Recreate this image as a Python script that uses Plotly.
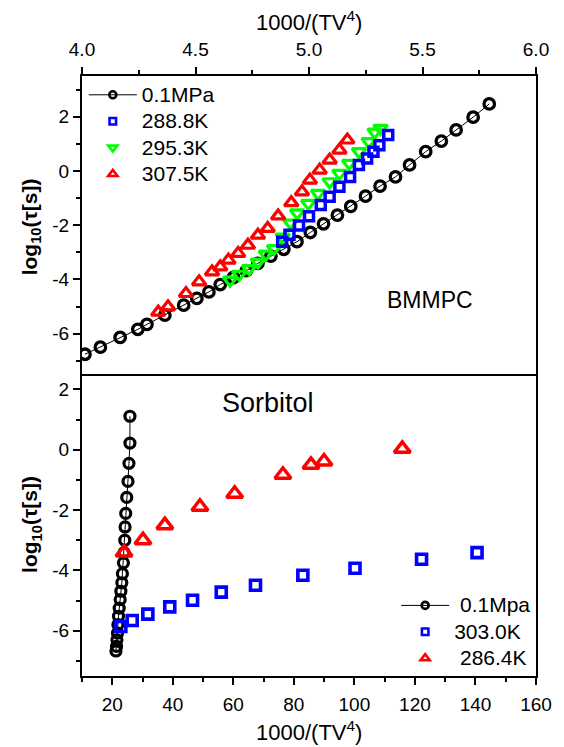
import plotly.graph_objects as go

# ---------------- data: top panel (BMMPC) ----------------
bm_01_x = [4.013, 4.081, 4.168, 4.246, 4.286, 4.365, 4.448, 4.506, 4.559, 4.609,
           4.667, 4.724, 4.775, 4.832, 4.889, 4.947, 5.006, 5.064, 5.125, 5.184,
           5.249, 5.313, 5.381, 5.443, 5.514, 5.583, 5.648, 5.723, 5.794]
bm_01_y = [-6.76, -6.50, -6.14, -5.84, -5.66, -5.32, -4.95, -4.70, -4.46, -4.19,
           -3.93, -3.68, -3.41, -3.14, -2.89, -2.61, -2.27, -1.95, -1.63, -1.31,
           -0.93, -0.56, -0.22, 0.22, 0.71, 1.10, 1.51, 1.98, 2.47]

bm_288_x = [4.882, 4.914, 4.956, 5.000, 5.052, 5.091, 5.134, 5.181, 5.220, 5.256,
            5.284, 5.310, 5.349]
bm_288_y = [-2.61, -2.35, -2.01, -1.67, -1.26, -0.95, -0.58, -0.22, 0.22, 0.46,
            0.71, 0.95, 1.32]

bm_295_x = [4.652, 4.693, 4.736, 4.775, 4.810, 4.846, 4.884, 4.918, 4.948, 4.997,
            5.040, 5.091, 5.134, 5.177, 5.220, 5.263, 5.289, 5.315]
bm_295_y = [-4.03, -3.81, -3.60, -3.36, -3.07, -2.86, -2.44, -1.92, -1.55, -1.20,
            -0.83, -0.40, -0.09, 0.28, 0.71, 1.08, 1.43, 1.57]

bm_307_x = [4.336, 4.379, 4.458, 4.516, 4.573, 4.609, 4.645, 4.688, 4.731, 4.775,
            4.818, 4.864, 4.922, 4.969, 5.004, 5.047, 5.091, 5.134, 5.169]
bm_307_y = [-5.21, -5.01, -4.52, -4.09, -3.72, -3.54, -3.29, -3.04, -2.74, -2.37,
            -2.12, -1.66, -1.17, -0.77, -0.34, 0.03, 0.40, 0.77, 1.14]

# ---------------- data: bottom panel (Sorbitol) ----------------
so_01_x = [25.84, 25.84, 25.52, 25.20, 24.78, 24.45, 24.23, 24.13, 23.90, 23.68,
           23.35, 23.16, 22.84, 22.61, 22.29, 22.06, 21.87, 21.74, 21.54, 21.41, 21.22]
so_01_y = [1.11, 0.22, -0.45, -1.05, -1.58, -2.11, -2.56, -3.00, -3.41, -3.75,
           -4.11, -4.41, -4.69, -4.97, -5.25, -5.52, -5.80, -6.08, -6.30, -6.52, -6.67]

so_303_x = [22.84, 26.59, 31.76, 39.00, 46.53, 56.01, 67.32, 82.97, 100.2, 122.19, 140.52]
so_303_y = [-5.86, -5.66, -5.45, -5.21, -4.99, -4.72, -4.49, -4.16, -3.93, -3.63, -3.41]

so_286_x = [23.90, 30.14, 37.38, 48.96, 60.44, 76.38, 85.65, 89.95, 115.82]
so_286_y = [-3.41, -3.00, -2.50, -1.89, -1.46, -0.83, -0.50, -0.39, 0.03]

# ---------------- tick labels ----------------
top_x_ticks = [4.0, 4.5, 5.0, 5.5, 6.0]
top_x_text = ["4.0", "4.5", "5.0", "5.5", "6.0"]
top_x_minor = [4.25, 4.75, 5.25, 5.75]
bot_x_ticks = [20, 40, 60, 80, 100, 120, 140, 160]
bot_x_text = ["20", "40", "60", "80", "100", "120", "140", "160"]
bot_x_minor = [10, 30, 50, 70, 90, 110, 130, 150]
top_y_ticks = [-6, -4, -2, 0, 2]
top_y_text = ["-6", "-4", "-2", "0", "2"]
top_y_minor = [-7, -5, -3, -1, 1, 3]
bot_y_ticks = [-6, -4, -2, 0, 2]
bot_y_text = ["-6", "-4", "-2", "0", "2"]
bot_y_minor = [-7, -5, -3, -1, 1]

top_names = ["0.1MPa", "288.8K", "295.3K", "307.5K"]
bot_names = ["\u00a00.1Mpa", "303.0K", "\u00a0286.4K"]

BLACK, BLUE, GREEN, RED = "#000000", "#0000FF", "#00FF00", "#FF0000"
FONT = "Arial, Liberation Sans, sans-serif"

fig = go.Figure()

def mk(sym, color, size, lw):
    return dict(symbol=sym, size=size, color=color, line=dict(color=color, width=lw))

# top panel data
fig.add_trace(go.Scatter(x=bm_01_x, y=bm_01_y, mode="lines+markers", xaxis="x2", yaxis="y2",
                         line=dict(color=BLACK, width=1), marker=mk("circle-open", BLACK, 10.5, 3.3),
                         showlegend=False))
fig.add_trace(go.Scatter(x=bm_295_x, y=bm_295_y, mode="markers", xaxis="x2", yaxis="y2",
                         marker=mk("triangle-down-open", GREEN, 12, 3.2), showlegend=False))
fig.add_trace(go.Scatter(x=bm_288_x, y=bm_288_y, mode="markers", xaxis="x2", yaxis="y2",
                         marker=mk("square-open", BLUE, 9, 3.5), showlegend=False))
fig.add_trace(go.Scatter(x=bm_307_x, y=bm_307_y, mode="markers", xaxis="x2", yaxis="y2",
                         marker=mk("triangle-up-open", RED, 12, 3.2), showlegend=False))

# bottom panel data
fig.add_trace(go.Scatter(x=so_01_x, y=so_01_y, mode="lines+markers", xaxis="x", yaxis="y",
                         line=dict(color=BLACK, width=1), marker=mk("circle-open", BLACK, 10, 3.2),
                         showlegend=False))
fig.add_trace(go.Scatter(x=so_303_x, y=so_303_y, mode="markers", xaxis="x", yaxis="y",
                         marker=mk("square-open", BLUE, 10, 3.6), showlegend=False))
fig.add_trace(go.Scatter(x=so_286_x, y=so_286_y, mode="markers", xaxis="x", yaxis="y",
                         marker=mk("triangle-up-open", RED, 14, 3.5), showlegend=False))

def lname(s):
    return "<span style='font-size:21px'>" + s + "</span>"

# legend-only entries (smaller symbols like the reference legend)
top_specs = [("lines+markers", "circle-open", BLACK, 7), ("markers", "square-open", BLUE, 6.5),
             ("markers", "triangle-down-open", GREEN, 8), ("markers", "triangle-up-open", RED, 8)]
for name, (mode, sym, col, sz) in zip(top_names, top_specs):
    fig.add_trace(go.Scatter(x=[None], y=[None], mode=mode, xaxis="x2", yaxis="y2",
                             name=lname(name), legend="legend",
                             line=dict(color=BLACK, width=1), marker=mk(sym, col, sz, 2.6)))
bot_specs = [("lines+markers", "circle-open", BLACK, 7), ("markers", "square-open", BLUE, 6.5),
             ("markers", "triangle-up-open", RED, 8)]
for name, (mode, sym, col, sz) in zip(bot_names, bot_specs):
    fig.add_trace(go.Scatter(x=[None], y=[None], mode=mode, xaxis="x", yaxis="y",
                             name=lname(name), legend="legend2",
                             line=dict(color=BLACK, width=1), marker=mk(sym, col, sz, 2.6)))

SPLIT = 0.5028
tickfont = dict(family=FONT, size=19, color="black")
common = dict(showgrid=False, zeroline=False, showline=True, linecolor="black", linewidth=2,
              ticks="outside", ticklen=7, tickwidth=2, tickcolor="black",
              tickfont=tickfont, tickmode="array")

def minor(vals):
    return dict(tickmode="array", tickvals=vals, ticks="outside", ticklen=4,
                tickwidth=2, tickcolor="black", showgrid=False)

fig.update_layout(
    width=564, height=747,
    margin=dict(l=82, r=18, t=76, b=71),
    paper_bgcolor="white", plot_bgcolor="white",
    font=dict(family=FONT, color="black"),
    xaxis=dict(domain=[0, 1], anchor="y", range=[10, 160], tickvals=bot_x_ticks,
               ticktext=bot_x_text, minor=minor(bot_x_minor), mirror=False,
               ticklabelstandoff=3, **common),
    yaxis=dict(domain=[0, SPLIT], anchor="x", range=[-7.5, 2.5], tickvals=bot_y_ticks,
               ticktext=bot_y_text, minor=minor(bot_y_minor), mirror=True, **common),
    xaxis2=dict(domain=[0, 1], anchor="y2", side="top", range=[4.0, 6.0], tickvals=top_x_ticks,
                ticktext=top_x_text, minor=minor(top_x_minor), mirror=True,
                ticklabelstandoff=3, **common),
    yaxis2=dict(domain=[SPLIT, 1], anchor="x2", range=[-7.5, 3.5], tickvals=top_y_ticks,
                ticktext=top_y_text, minor=minor(top_y_minor), mirror=True, **common),
    legend=dict(x=0.004, y=0.999, xanchor="left", yanchor="top", bgcolor="rgba(0,0,0,0)",
                font=dict(family=FONT, size=18, color="black"), itemwidth=48,
                tracegroupgap=0),
    legend2=dict(x=0.692, y=0.148, xanchor="left", yanchor="top", bgcolor="rgba(0,0,0,0)",
                 font=dict(family=FONT, size=18, color="black"), itemwidth=48,
                 tracegroupgap=0),
    annotations=[
        dict(text="1000/(TV<sup>4</sup>)", xref="paper", yref="paper", x=0.5, y=1.091,
             xanchor="center", yanchor="middle", showarrow=False, font=dict(size=22)),
        dict(text="1000/(TV<sup>4</sup>)", xref="paper", yref="paper", x=0.5, y=-0.0917,
             xanchor="center", yanchor="middle", showarrow=False, font=dict(size=22)),
        dict(text="<b>log<sub>10</sub>(τ[s])</b>", xref="paper", yref="paper", x=-0.112, y=0.748,
             xanchor="center", yanchor="middle", textangle=-90, showarrow=False, font=dict(size=21)),
        dict(text="<b>log<sub>10</sub>(τ[s])</b>", xref="paper", yref="paper", x=-0.112, y=0.252,
             xanchor="center", yanchor="middle", textangle=-90, showarrow=False, font=dict(size=21)),
        dict(text="BMMPC", xref="paper", yref="paper", x=0.766, y=0.627,
             xanchor="center", yanchor="middle", showarrow=False, font=dict(size=23)),
        dict(text="Sorbitol", xref="paper", yref="paper", x=0.41, y=0.455,
             xanchor="center", yanchor="middle", showarrow=False, font=dict(size=27)),
    ],
)

fig.write_html("out.html", config={"displayModeBar": False},
               post_script="document.body.style.margin='0';document.body.style.padding='0';")
